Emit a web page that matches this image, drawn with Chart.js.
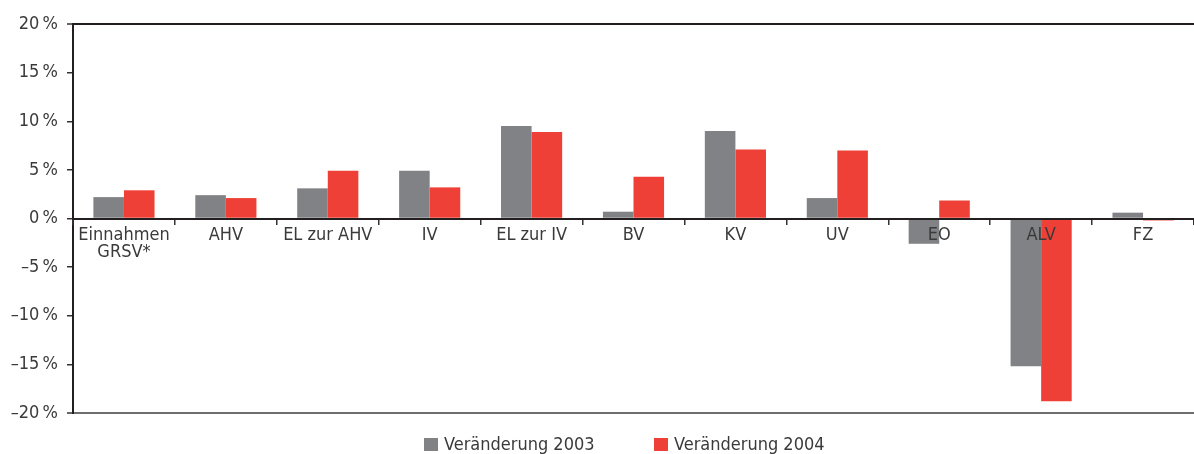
<!DOCTYPE html>
<html><head><meta charset="utf-8">
<script src="https://cdn.jsdelivr.net/npm/chart.js@4.4.1/dist/chart.umd.min.js"></script>
<style>
html,body{margin:0;padding:0;background:#fff;overflow:hidden}
#wrap{position:relative;width:1194px;height:454px}
.lg{position:absolute;font-family:"DejaVu Sans Condensed","Liberation Sans Narrow",sans-serif;font-size:18px;line-height:20px;color:#3a3a3a;white-space:nowrap}
.bx{position:absolute;width:14px;height:13px}
</style></head>
<body>
<div id="wrap"><canvas id="c" width="1194" height="454"></canvas><div id="legend"></div></div>
<script>
const categories = [['Einnahmen','GRSV*'],'AHV','EL zur AHV','IV','EL zur IV','BV','KV','UV','EO','ALV','FZ'];
const series2003 = [2.2, 2.4, 3.1, 4.9, 9.5, 0.7, 9.0, 2.1, -2.6, -15.2, 0.6];
const series2004 = [2.9, 2.1, 4.9, 3.2, 8.9, 4.3, 7.1, 7.0, 1.85, -18.8, -0.2];
const seriesNames = ['Veränderung 2003', 'Veränderung 2004'];
const seriesColors = ['#818285', '#ee4036'];
const yTicks = [-20, -15, -10, -5, 0, 5, 10, 15, 20];

// HTML legend
const legendPos = [{box: 424, text: 444}, {box: 654, text: 674}];
const lgEl = document.getElementById('legend');
seriesNames.forEach((name, i) => {
  const b = document.createElement('div');
  b.className = 'bx';
  b.style.left = legendPos[i].box + 'px';
  b.style.top = '438px';
  b.style.background = seriesColors[i];
  lgEl.appendChild(b);
  const t = document.createElement('div');
  t.className = 'lg';
  t.style.left = legendPos[i].text + 'px';
  t.style.top = '434px';
  t.textContent = name;
  lgEl.appendChild(t);
});

const FONT = '"DejaVu Sans Condensed","Liberation Sans Narrow",sans-serif';

new Chart(document.getElementById('c'), {
  type: 'bar',
  data: {
    labels: categories,
    datasets: [
      {label: seriesNames[0], data: series2003, backgroundColor: seriesColors[0], borderWidth: 0, categoryPercentage: 0.6, barPercentage: 1.0},
      {label: seriesNames[1], data: series2004, backgroundColor: seriesColors[1], borderWidth: 0, categoryPercentage: 0.6, barPercentage: 1.0}
    ]
  },
  options: {
    responsive: false,
    animation: false,
    devicePixelRatio: 1,
    layout: {padding: {top: 24, bottom: 41, left: 0, right: 0}},
    plugins: {legend: {display: false}, tooltip: {enabled: false}, title: {display: false}},
    scales: {
      x: {
        type: 'category',
        position: {y: 0},
        grid: {offset: true, drawOnChartArea: false, tickLength: 5, color: '#333', lineWidth: 1.5, z: 1},
        border: {display: true, color: '#231f20', width: 2, z: 1},
        ticks: {
          z: 1,
          autoSkip: false, maxRotation: 0, minRotation: 0, padding: 4,
          color: '#3a3a3a',
          font: {family: FONT, size: 18, lineHeight: 0.92}
        }
      },
      y: {
        min: -20, max: 20,
        afterBuildTicks: s => { s.ticks = yTicks.map(v => ({value: v})); },
        afterFit: s => { s.width = 73; },
        grid: {
          drawOnChartArea: true,
          color: c => c.tick && c.tick.value === 20 ? '#231f20' : (c.tick && c.tick.value === -20 ? '#6e6e6e' : 'rgba(0,0,0,0)'),
          lineWidth: c => c.tick && (c.tick.value === 20 || c.tick.value === -20) ? 2 : 1.5,
          tickColor: '#333',
          tickWidth: 1.5,
          tickLength: 6
        },
        border: {display: true, color: '#231f20', width: 2},
        ticks: {
          padding: 9,
          color: '#3a3a3a',
          font: {family: FONT, size: 18},
          callback: v => (v < 0 ? '\u2013' + Math.abs(v) : String(v)) + '\u2009%'
        }
      }
    }
  }
});
</script>
</body></html>
